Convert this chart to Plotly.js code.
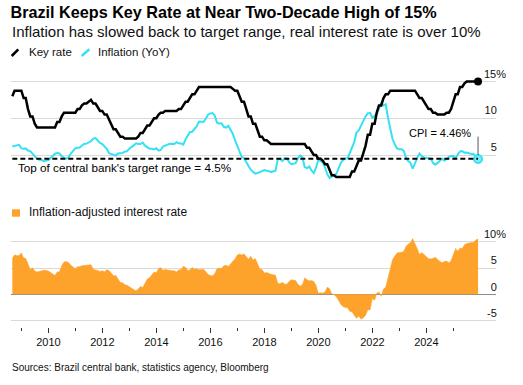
<!DOCTYPE html>
<html>
<head>
<meta charset="utf-8">
<script src="https://cdn.plot.ly/plotly-3.0.1.min.js"></script>
<style>html,body{margin:0;padding:0;background:#fff;}#chart{width:523px;height:385px;}</style>
</head>
<body>
<div id="chart"></div>
<script>
// Monthly observations, Aug 2008 .. Nov 2025 (month-end)
const startYear = 2008, startMonth = 8, nMonths = 208;

const keyRate = [
  13.00,13.75,13.75,13.75,13.75,
  12.75,12.75,11.25,10.25,10.25,9.25,8.75,8.75,8.75,8.75,8.75,8.75,
  8.75,8.75,8.75,9.50,9.50,10.25,10.75,10.75,10.75,10.75,10.75,10.75,
  11.25,11.25,11.75,12.00,12.00,12.25,12.50,12.00,12.00,11.50,11.00,11.00,
  10.50,10.50,9.75,9.00,8.50,8.50,8.00,7.50,7.50,7.25,7.25,7.25,
  7.25,7.25,7.25,7.50,8.00,8.00,8.50,9.00,9.00,9.50,10.00,10.00,
  10.50,10.75,10.75,11.00,11.00,11.00,11.00,11.00,11.00,11.25,11.25,11.75,
  12.25,12.25,12.75,13.25,13.25,13.75,14.25,14.25,14.25,14.25,14.25,14.25,
  14.25,14.25,14.25,14.25,14.25,14.25,14.25,14.25,14.25,14.00,13.75,13.75,
  13.00,12.25,12.25,11.25,10.25,10.25,9.25,9.25,8.25,7.50,7.50,7.00,
  7.00,6.75,6.50,6.50,6.50,6.50,6.50,6.50,6.50,6.50,6.50,6.50,
  6.50,6.50,6.50,6.50,6.50,6.50,6.00,6.00,5.50,5.00,5.00,4.50,
  4.50,4.25,3.75,3.75,3.00,2.25,2.25,2.00,2.00,2.00,2.00,2.00,
  2.00,2.00,2.75,2.75,3.50,4.25,4.25,5.25,6.25,7.75,7.75,9.25,
  9.25,10.75,11.75,11.75,12.75,13.25,13.25,13.75,13.75,13.75,13.75,13.75,
  13.75,13.75,13.75,13.75,13.75,13.75,13.75,13.25,12.75,12.75,12.25,11.75,
  11.25,11.25,10.75,10.75,10.50,10.50,10.50,10.50,10.75,10.75,11.25,12.25,
  13.25,13.25,14.25,14.25,14.75,15.00,15.00,15.00,15.00,15.00,15.00
];

const inflation = [
  6.17,6.25,6.41,6.39,5.90,
  5.84,5.90,5.61,5.53,5.20,4.80,4.50,4.36,4.34,4.17,4.22,4.31,
  4.59,4.83,5.17,5.26,5.22,4.84,4.60,4.49,4.70,5.20,5.63,5.91,
  5.99,6.01,6.30,6.51,6.55,6.71,6.87,7.23,7.31,6.97,6.64,6.50,
  6.22,5.85,5.24,5.10,4.99,4.92,5.20,5.24,5.28,5.45,5.53,5.84,
  6.15,6.31,6.59,6.49,6.50,6.70,6.27,6.09,5.86,5.84,5.77,5.91,
  5.59,5.68,6.15,6.28,6.37,6.52,6.50,6.51,6.75,6.59,6.56,6.41,
  7.14,7.70,8.13,8.17,8.47,8.89,9.56,9.53,9.49,9.93,10.48,10.67,
  10.71,10.36,9.39,9.28,9.32,8.84,8.74,8.97,8.48,7.87,6.99,6.29,
  5.35,4.76,4.57,4.08,3.60,3.00,2.71,2.46,2.54,2.70,2.80,2.95,
  2.86,2.84,2.68,2.76,2.86,4.39,4.48,4.19,4.53,4.56,4.05,3.75,
  3.78,3.89,4.58,4.94,4.66,3.37,3.22,3.43,2.89,2.54,3.27,4.31,
  4.19,4.01,3.30,2.40,1.88,2.13,2.31,2.44,3.14,3.92,4.31,4.52,
  4.56,5.20,6.10,6.76,8.06,8.35,8.99,9.68,10.25,10.67,10.74,10.06,
  10.38,10.54,11.30,12.13,11.73,11.89,10.07,8.73,7.17,6.47,5.90,5.79,
  5.77,5.60,4.65,4.18,3.94,3.16,3.99,4.61,5.19,4.82,4.68,4.62,
  4.51,4.50,3.93,3.69,3.93,4.23,4.50,4.24,4.42,4.76,4.87,4.83,
  4.56,5.06,5.48,5.53,5.32,5.35,5.23,5.13,5.17,4.68,4.46
];

const realRate = [
  6.83,7.50,7.34,7.36,7.85,
  6.91,6.85,5.64,4.72,5.05,4.45,4.25,4.39,4.41,4.58,4.53,4.44,
  4.16,3.92,3.58,4.24,4.28,5.41,6.15,6.26,6.05,5.55,5.12,4.84,
  5.26,5.24,5.45,5.49,5.45,5.54,5.63,4.77,4.69,4.53,4.36,4.50,
  4.28,4.65,4.51,3.90,3.51,3.58,2.80,2.26,2.22,1.80,1.72,1.41,
  1.10,0.94,0.66,1.01,1.50,1.30,2.23,2.91,3.14,3.66,4.23,4.09,
  4.91,5.07,4.60,4.72,4.63,4.48,4.50,4.49,4.25,4.66,4.69,5.34,
  5.11,4.55,4.62,5.08,4.78,4.86,4.69,4.72,4.76,4.32,3.77,3.58,
  3.54,3.89,4.86,4.97,4.93,5.41,5.51,5.28,5.77,6.13,6.76,7.46,
  7.65,7.49,7.68,7.17,6.65,7.25,6.54,6.79,5.71,4.80,4.70,4.05,
  4.14,3.91,3.82,3.74,3.64,2.11,2.02,2.31,1.97,1.94,2.45,2.75,
  2.72,2.61,1.92,1.56,1.84,3.13,2.78,2.57,2.61,2.46,1.73,0.19,
  0.31,0.24,0.45,1.35,1.12,0.12,-0.06,-0.44,-1.14,-1.92,-2.31,-2.52,
  -2.56,-3.20,-3.35,-4.01,-4.56,-4.10,-4.74,-4.43,-4.00,-2.92,-2.99,-0.81,
  -1.13,0.21,0.45,-0.38,1.02,1.36,3.18,5.02,6.58,7.28,7.85,7.96,
  7.98,8.15,9.10,9.57,9.81,10.59,9.76,8.64,7.56,7.93,7.57,7.13,
  6.74,6.75,6.82,7.06,6.57,6.27,6.00,6.26,6.33,5.99,6.38,7.42,
  8.69,8.19,8.77,8.72,9.43,9.65,9.77,9.87,9.83,10.32,10.54
];

const targetTop = 4.5;
const topTickVals = [5, 10, 15];
const topTickText = ['5\u00a0\u00a0\u00a0', '10\u00a0\u00a0\u00a0', '15%'];
const botTickVals = [-5, 0, 5, 10];
const botTickText = ['-5\u00a0\u00a0\u00a0', '0\u00a0\u00a0\u00a0', '5\u00a0\u00a0\u00a0', '10%'];
const yearTickVals = ['2010-01-01','2012-01-01','2014-01-01','2016-01-01','2018-01-01','2020-01-01','2022-01-01','2024-01-01'];
const yearTickText = ['2010','2012','2014','2016','2018','2020','2022','2024'];
const minorTickVals = ['2009-01-01','2011-01-01','2013-01-01','2015-01-01','2017-01-01','2019-01-01','2021-01-01','2023-01-01','2025-01-01'];

function pad(n){return (n<10?'0':'')+n;}
const dates = [];
for (let i = 0; i < nMonths; i++) {
  const m0 = startMonth - 1 + i;
  const y = startYear + Math.floor(m0 / 12);
  const m = m0 % 12;
  const d = new Date(Date.UTC(y, m + 1, 0));
  dates.push(d.getUTCFullYear() + '-' + pad(d.getUTCMonth() + 1) + '-' + pad(d.getUTCDate()));
}
const last = dates.length - 1;

const FONT = 'Liberation Sans, Arial, sans-serif';
const BLACK = '#000000', CYAN = '#36e1f4', ORANGE = '#fda22a';

const traces = [
  {x: dates, y: inflation, type: 'scatter', mode: 'lines', xaxis: 'x', yaxis: 'y',
   line: {color: CYAN, width: 2}, hoverinfo: 'skip'},
  {x: dates, y: keyRate, type: 'scatter', mode: 'lines', xaxis: 'x', yaxis: 'y',
   line: {color: BLACK, width: 2.5}, hoverinfo: 'skip'},
  {x: [dates[last]], y: [keyRate[last]], type: 'scatter', mode: 'markers', xaxis: 'x', yaxis: 'y',
   marker: {color: BLACK, size: 8}, hoverinfo: 'skip'},
  {x: [dates[last]], y: [inflation[last]], type: 'scatter', mode: 'markers', xaxis: 'x', yaxis: 'y',
   marker: {color: '#7eeefa', size: 8, line: {color: CYAN, width: 2}}, hoverinfo: 'skip'},
  {x: dates, y: realRate, type: 'scatter', mode: 'lines', fill: 'tozeroy', xaxis: 'x2', yaxis: 'y2',
   line: {color: ORANGE, width: 0.5}, fillcolor: ORANGE, hoverinfo: 'skip'}
];

const W = 523, H = 385;
const px = v => (v - 11) / 485;      // pixel x -> paper x
const py = v => 1 - v / H;           // pixel y -> paper y

const layout = {
  width: W, height: H,
  margin: {l: 11, r: 27, t: 0, b: 0},
  paper_bgcolor: '#fff', plot_bgcolor: '#fff',
  showlegend: false,
  font: {family: FONT, size: 11, color: '#111'},
  title: {text: 'Brazil Keeps Key Rate at Near Two-Decade High of 15%',
          xref: 'container', x: 10.5 / W, xanchor: 'left', yref: 'container', y: 1 - 12.5 / H, yanchor: 'middle',
          font: {family: FONT, size: 16.2, weight: 700, color: '#000'}},
  xaxis: {matches: 'x2', anchor: 'y', visible: false, showgrid: false, zeroline: false,
          type: 'date', range: ['2008-08-13', '2026-07-31']},
  xaxis2: {anchor: 'y2', type: 'date', range: ['2008-08-13', '2026-07-31'],
           showgrid: false, zeroline: false, showline: false,
           ticks: 'outside', ticklen: 5, tickwidth: 1, tickcolor: '#333',
           tickmode: 'array', tickvals: yearTickVals, ticktext: yearTickText,
           tickfont: {family: FONT, size: 11, color: '#111'},
           minor: {tickmode: 'array', tickvals: minorTickVals, ticks: 'outside', ticklen: 3, tickcolor: '#333', showgrid: false}},
  yaxis: {domain: [py(185), py(66)], range: [0.92, 17.11], side: 'right',
          showgrid: true, gridcolor: '#d9d9d9', gridwidth: 1, zeroline: false,
          tickvals: topTickVals, ticktext: topTickText, ticks: '',
          ticklabelposition: 'inside top', ticklabeloverflow: 'allow', ticklabelstandoff: -13,
          tickfont: {family: FONT, size: 11, color: '#111'}},
  yaxis2: {domain: [py(327), py(228)], range: [-6.2, 12.6], side: 'right',
           showgrid: true, gridcolor: '#d9d9d9', gridwidth: 1,
           zeroline: true, zerolinecolor: '#8c8c8c', zerolinewidth: 1.5,
           tickvals: botTickVals, ticktext: botTickText, ticks: '',
           ticklabelposition: 'inside top', ticklabeloverflow: 'allow', ticklabelstandoff: -13,
           tickfont: {family: FONT, size: 11, color: '#111'}},
  shapes: [
    {type: 'line', xref: 'x', yref: 'y', x0: dates[0], x1: dates[last], y0: targetTop, y1: targetTop,
     line: {color: BLACK, width: 2, dash: '5px,3px'}},
    {type: 'line', xref: 'x', yref: 'y', x0: dates[last], x1: dates[last], y0: 5.0, y1: 7.5,
     line: {color: '#555', width: 1}},
    {type: 'line', xref: 'paper', yref: 'paper', x0: px(11.7), x1: px(18.3), y0: py(56), y1: py(49.3),
     line: {color: BLACK, width: 2.5}},
    {type: 'line', xref: 'paper', yref: 'paper', x0: px(81.7), x1: px(89.3), y0: py(56), y1: py(49.3),
     line: {color: CYAN, width: 2.5}},
    {type: 'rect', xref: 'paper', yref: 'paper', x0: px(12), x1: px(20), y0: py(216.7), y1: py(209.3),
     fillcolor: ORANGE, line: {width: 0}}
  ],
  annotations: [
    {text: 'Inflation has slowed back to target range, real interest rate is over 10%',
     xref: 'paper', yref: 'paper', x: px(10), y: py(31), xanchor: 'left', yanchor: 'middle', showarrow: false,
     font: {family: FONT, size: 15, color: '#111'}},
    {text: 'Key rate', xref: 'paper', yref: 'paper', x: px(27), y: py(51.7), xanchor: 'left', yanchor: 'middle',
     showarrow: false, font: {family: FONT, size: 11.5, color: '#111'}},
    {text: 'Inflation (YoY)', xref: 'paper', yref: 'paper', x: px(96), y: py(51.7), xanchor: 'left', yanchor: 'middle',
     showarrow: false, font: {family: FONT, size: 11.5, color: '#111'}},
    {text: "Top of central bank's target range = 4.5%", xref: 'paper', yref: 'y', x: px(16), y: 3.33,
     xanchor: 'left', yanchor: 'middle', showarrow: false, font: {family: FONT, size: 11.7, color: '#000'}},
    {text: 'CPI = 4.46%', xref: 'x', yref: 'y', x: dates[last], xshift: -5, y: 7.95,
     xanchor: 'right', yanchor: 'middle', showarrow: false, font: {family: FONT, size: 11, color: '#000'}},
    {text: 'Inflation-adjusted interest rate', xref: 'paper', yref: 'paper', x: px(26.5), y: py(211.7),
     xanchor: 'left', yanchor: 'middle', showarrow: false, font: {family: FONT, size: 12, color: '#111'}},
    {text: 'Sources: Brazil central bank, statistics agency, Bloomberg', xref: 'paper', yref: 'paper',
     x: px(10), y: py(367), xanchor: 'left', yanchor: 'middle', showarrow: false,
     font: {family: FONT, size: 10, color: '#111'}}
  ]
};

Plotly.newPlot('chart', traces, layout, {staticPlot: true, displayModeBar: false});
</script>
</body>
</html>
